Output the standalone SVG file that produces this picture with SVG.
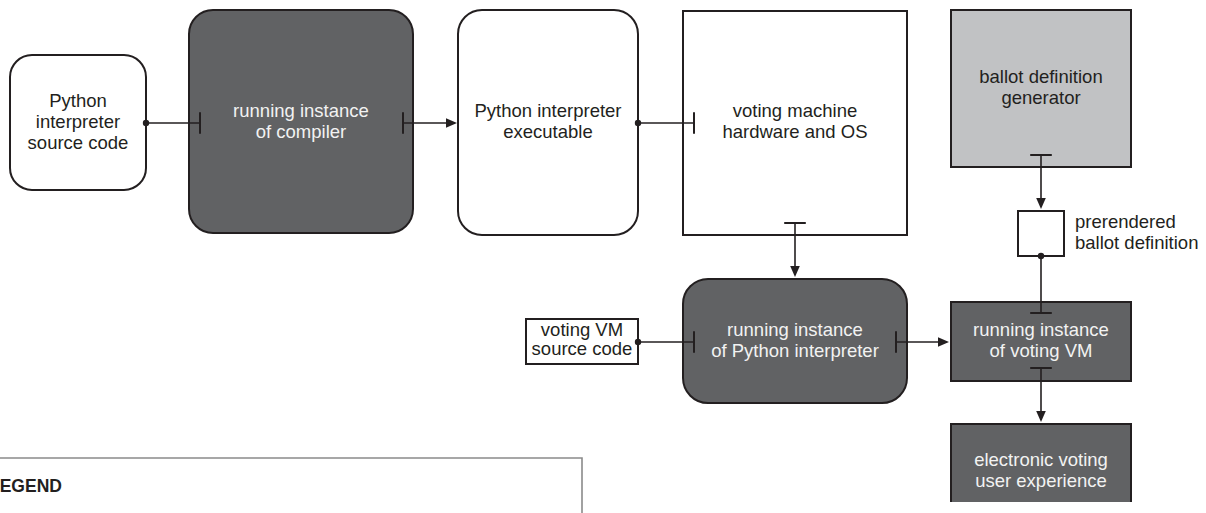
<svg xmlns="http://www.w3.org/2000/svg" width="1206" height="513" viewBox="0 0 1206 513">
<style>
  .box { stroke: #231f20; stroke-width: 2; }
  .white { fill: #ffffff; }
  .dark { fill: #616264; }
  .light { fill: #c1c2c4; }
  text { font-family: "Liberation Sans", Arial, sans-serif; font-size: 18.5px; text-anchor: middle; }
  .t-dark { fill: #231f20; }
  .t-light { fill: #f2f2f2; }
  .conn { stroke: #231f20; stroke-width: 1.6; fill: none; }
  .legend { fill: none; stroke: #8a8a8a; stroke-width: 1.6; }
  .legend-title { font-weight: bold; font-size: 17.5px; text-anchor: start; fill: #231f20; }
</style>
<defs>
  <marker id="arrow" markerUnits="userSpaceOnUse" viewBox="-10 -6 13 12" refX="0" refY="0" markerWidth="13" markerHeight="12" orient="auto">
    <path d="M2,0 L-9,-4.8 L-9,4.8 Z" fill="#231f20"/>
  </marker>
  <marker id="bar" markerUnits="userSpaceOnUse" viewBox="-2 -12 4 24" refX="0" refY="0" markerWidth="4" markerHeight="24" orient="auto">
    <line x1="0" y1="-10.8" x2="0" y2="10.8" stroke="#231f20" stroke-width="2"/>
  </marker>
  <marker id="dot" markerUnits="userSpaceOnUse" viewBox="-4 -4 8 8" refX="0" refY="0" markerWidth="8" markerHeight="8" orient="auto">
    <circle cx="0" cy="0" r="3.2" fill="#231f20"/>
  </marker>
</defs>

<g id="node-python-source">
  <rect class="box white" x="10" y="55" width="136" height="135" rx="22"/>
  <text class="t-dark" x="78" y="107">Python</text>
  <text class="t-dark" x="78" y="128">interpreter</text>
  <text class="t-dark" x="78" y="149">source code</text>
</g>

<g id="node-compiler">
  <rect class="box dark" x="189" y="10" width="224" height="223" rx="24"/>
  <text class="t-light" x="301" y="117">running instance</text>
  <text class="t-light" x="301" y="138">of compiler</text>
</g>

<g id="node-python-exe">
  <rect class="box white" x="458" y="10" width="180" height="225" rx="24"/>
  <text class="t-dark" x="548" y="117">Python interpreter</text>
  <text class="t-dark" x="548" y="138">executable</text>
</g>

<g id="node-hardware">
  <rect class="box white" x="683" y="11" width="224" height="224"/>
  <text class="t-dark" x="795" y="117">voting machine</text>
  <text class="t-dark" x="795" y="138">hardware and OS</text>
</g>

<g id="node-ballot-generator">
  <rect class="box light" x="951" y="10" width="180" height="157"/>
  <text class="t-dark" x="1041" y="83">ballot definition</text>
  <text class="t-dark" x="1041" y="104">generator</text>
</g>

<g id="node-prerendered">
  <rect class="box white" x="1018" y="211" width="46" height="45"/>
  <text class="t-dark" x="1075" y="228" style="text-anchor:start">prerendered</text>
  <text class="t-dark" x="1075" y="249" style="text-anchor:start">ballot definition</text>
</g>

<g id="node-vm-source">
  <rect class="box white" x="526" y="319" width="112" height="45"/>
  <text class="t-dark" x="582" y="336">voting VM</text>
  <text class="t-dark" x="582" y="355">source code</text>
</g>

<g id="node-python-running">
  <rect class="box dark" x="683" y="279" width="224" height="124" rx="25"/>
  <text class="t-light" x="795" y="336">running instance</text>
  <text class="t-light" x="795" y="357">of Python interpreter</text>
</g>

<g id="node-voting-vm">
  <rect class="box dark" x="951" y="302" width="180" height="79"/>
  <text class="t-light" x="1041" y="336">running instance</text>
  <text class="t-light" x="1041" y="357">of voting VM</text>
</g>

<g id="node-user-experience">
  <rect class="dark" x="951" y="424" width="180" height="78"/>
  <path class="box" fill="none" d="M951,502 V424 H1131 V502"/>
  <text class="t-light" x="1041" y="466">electronic voting</text>
  <text class="t-light" x="1041" y="487">user experience</text>
</g>

<g id="legend">
  <path class="legend" d="M-2,458 H582 V520"/>
  <text class="legend-title" x="-11" y="492">LEGEND</text>
</g>

<g id="connectors">
  <line class="conn" x1="146" y1="123" x2="200" y2="123" marker-start="url(#dot)" marker-end="url(#bar)"/>
  <line class="conn" x1="403" y1="123" x2="455" y2="123" marker-start="url(#bar)" marker-end="url(#arrow)"/>
  <line class="conn" x1="638" y1="123" x2="694" y2="123" marker-start="url(#dot)" marker-end="url(#bar)"/>
  <line class="conn" x1="795" y1="223" x2="795" y2="275" marker-start="url(#bar)" marker-end="url(#arrow)"/>
  <line class="conn" x1="1041" y1="155" x2="1041" y2="207" marker-start="url(#bar)" marker-end="url(#arrow)"/>
  <line class="conn" x1="1041" y1="256" x2="1041" y2="313" marker-start="url(#dot)" marker-end="url(#bar)"/>
  <line class="conn" x1="638" y1="342" x2="694" y2="342" marker-start="url(#dot)" marker-end="url(#bar)"/>
  <line class="conn" x1="896" y1="342" x2="947" y2="342" marker-start="url(#bar)" marker-end="url(#arrow)"/>
  <line class="conn" x1="1041" y1="368" x2="1041" y2="420" marker-start="url(#bar)" marker-end="url(#arrow)"/>
</g>
</svg>
